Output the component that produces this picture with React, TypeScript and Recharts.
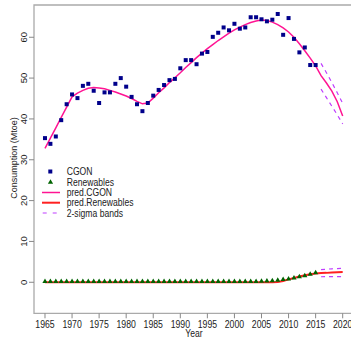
import { ComposedChart, Line, Scatter, XAxis, YAxis, ReferenceArea } from "recharts";

const years = [
	1965, 1966, 1967, 1968, 1969, 1970, 1971, 1972, 1973, 1974, 1975, 1976, 1977, 1978,
	1979, 1980, 1981, 1982, 1983, 1984, 1985, 1986, 1987, 1988, 1989, 1990, 1991, 1992,
	1993, 1994, 1995, 1996, 1997, 1998, 1999, 2000, 2001, 2002, 2003, 2004, 2005, 2006,
	2007, 2008, 2009, 2010, 2011, 2012, 2013, 2014, 2015, 2016, 2017, 2018, 2019, 2020,
];

// observed, 1965-2015
const cgon = [
	35.3, 33.9, 35.7, 39.7, 43.6, 46.0, 45.1, 48.1, 48.6, 46.9, 43.9, 46.5, 46.5, 48.6,
	50.0, 47.9, 45.4, 43.6, 41.9, 43.9, 45.7, 47.1, 48.3, 49.5, 49.8, 52.4, 54.4, 54.4,
	53.4, 56.0, 56.4, 60.1, 61.1, 62.4, 61.7, 63.3, 62.1, 62.4, 64.9, 64.9, 64.4, 63.9,
	64.3, 65.7, 60.6, 64.7, 59.6, 56.3, 57.5, 53.2, 53.2,
];
const renewables = [
	0.25, 0.25, 0.25, 0.25, 0.25, 0.25, 0.25, 0.25, 0.25, 0.25, 0.25, 0.25, 0.25, 0.25,
	0.25, 0.25, 0.25, 0.25, 0.25, 0.25, 0.25, 0.25, 0.25, 0.25, 0.25, 0.25, 0.25, 0.25,
	0.25, 0.25, 0.25, 0.25, 0.25, 0.25, 0.25, 0.25, 0.25, 0.25, 0.25, 0.25, 0.3, 0.35,
	0.45, 0.55, 0.75, 0.85, 1.1, 1.4, 1.65, 2.0, 2.4,
];

// fitted + forecast, 1965-2020
const predCgon = [
	32.8, 35.3, 37.8, 40.4, 42.9, 45.4, 46.3, 47.0, 47.5, 47.7, 47.6, 47.4, 47.0, 46.6,
	46.1, 45.6, 45.0, 44.3, 43.7, 43.9, 45.1, 46.4, 47.6, 48.9, 50.1, 51.3, 52.6, 53.8,
	55.0, 56.1, 57.2, 58.2, 59.2, 60.1, 61.0, 61.8, 62.5, 63.1, 63.6, 64.0, 64.2, 64.1,
	63.7, 63.1, 62.3, 61.3, 60.0, 58.4, 56.7, 54.9, 53.0, 50.6, 48.8, 46.8, 44.2, 40.7,
];
const predRenew = [
	0, 0, 0, 0, 0, 0, 0, 0, 0, 0, 0, 0, 0, 0,
	0, 0, 0, 0, 0, 0, 0, 0, 0, 0, 0, 0, 0, 0,
	0, 0, 0, 0, 0, 0, 0, 0, 0, 0, 0, 0, 0, 0,
	0, 0.05, 0.3, 0.7, 1.05, 1.4, 1.7, 1.95, 2.15, 2.25, 2.3, 2.4, 2.45, 2.5,
];

const bandYears = [2016, 2017, 2018, 2019, 2020];
const cgonUpper = [53.6, 51.3, 48.9, 46.4, 43.8];
const cgonLower = [47.3, 45.2, 43.1, 41.0, 38.8];
const renUpper = [3.1, 3.2, 3.3, 3.35, 3.4];
const renLower = [1.35, 1.4, 1.4, 1.4, 1.4];

const xTicks = [1965, 1970, 1975, 1980, 1985, 1990, 1995, 2000, 2005, 2010, 2015, 2020];
const yTicks = [0, 10, 20, 30, 40, 50, 60];

const X_MIN = 1962.97;
const X_MAX = 2022.2;
const Y_MIN = -7.6;
const Y_MAX = 67.9;

const FONT = "'Liberation Sans', Arial, sans-serif";
const NAVY = "#00008B";
const GREEN = "#006400";
const PINK = "#FF1493";
const RED = "#FF2020";
const VIOLET = "#BF3EFF";

const toPoints = (xs: number[], ys: number[]) => ys.map((v, i) => ({ year: xs[i], value: v }));

const cgonPts = toPoints(years, cgon);
const renPts = toPoints(years, renewables);
const predCgonPts = toPoints(years, predCgon);
const predRenPts = toPoints(years, predRenew);
const cgonUpPts = toPoints(bandYears, cgonUpper);
const cgonLoPts = toPoints(bandYears, cgonLower);
const renUpPts = toPoints(bandYears, renUpper);
const renLoPts = toPoints(bandYears, renLower);

function Square({ cx, cy }: { cx?: number; cy?: number }) {
	if (cx == null || cy == null) return null;
	return <rect x={cx - 2} y={cy - 2} width={4} height={4} fill={NAVY} />;
}

function Triangle({ cx, cy }: { cx?: number; cy?: number }) {
	if (cx == null || cy == null) return null;
	return <polygon points={`${cx},${cy - 2.8} ${cx - 2.6},${cy + 1.7} ${cx + 2.6},${cy + 1.7}`} fill={GREEN} />;
}

function XTick({ x, y, payload }: any) {
	return (
		<text transform={`translate(${x},${y + 8}) scale(0.87,1)`} textAnchor="middle" fontSize={10} fontFamily={FONT} fill="#222">
			{payload.value}
		</text>
	);
}

function YTick({ x, y, payload }: any) {
	return (
		<text transform={`translate(${x - 0.5},${y}) rotate(-90)`} textAnchor="middle" fontSize={9.5} fontFamily={FONT} fill="#222">
			{payload.value}
		</text>
	);
}

const legendRows = [
	{ label: "CGON", y: 171.5 },
	{ label: "Renewables", y: 182 },
	{ label: "pred.CGON", y: 192.5 },
	{ label: "pred.Renewables", y: 202.7 },
	{ label: "2-sigma bands", y: 213 },
];

function Overlay() {
	return (
		<svg width={351} height={338} style={{ position: "absolute", left: 0, top: 0, pointerEvents: "none" }}>
			<rect x={48.3} y={169.5} width={4} height={4} fill={NAVY} />
			<Triangle cx={50.5} cy={182} />
			<line x1={42} x2={60} y1={192.5} y2={192.5} stroke={PINK} strokeWidth={1.5} />
			<line x1={42} x2={60} y1={202.7} y2={202.7} stroke={RED} strokeWidth={2} />
			<line x1={42.7} x2={58.7} y1={213} y2={213} stroke={VIOLET} strokeWidth={1.2} strokeDasharray="4 6" />
			{legendRows.map((r) => (
				<text key={r.label} transform={`translate(66.7,${r.y + 3.5}) scale(0.86,1)`} fontSize={10} fontFamily={FONT} fill="#222">
					{r.label}
				</text>
			))}
			<text transform="translate(194,337) scale(0.86,1)" textAnchor="middle" fontSize={10} fontFamily={FONT} fill="#222">
				Year
			</text>
			<text transform="translate(17,158) rotate(-90)" textAnchor="middle" fontSize={9} fontFamily={FONT} fill="#222">
				Consumption (Mtoe)
			</text>
		</svg>
	);
}

export default function App() {
	return (
		<div style={{ position: "absolute", left: 0, top: 0, width: 351, height: 338, overflow: "hidden", background: "#fff" }}>
			<ComposedChart width={360} height={338} margin={{ top: 5, right: 5.4, bottom: 0, left: 0 }}>
				<XAxis
					type="number"
					dataKey="year"
					domain={[X_MIN, X_MAX]}
					ticks={xTicks}
					interval={0}
					allowDataOverflow
					axisLine={false}
					tickLine={{ stroke: "#888" }}
					tickSize={5}
					height={24.7}
					tick={<XTick />}
				/>
				<YAxis
					type="number"
					domain={[Y_MIN, Y_MAX]}
					ticks={yTicks}
					interval={0}
					allowDataOverflow
					axisLine={false}
					tickLine={{ stroke: "#888" }}
					tickSize={5}
					width={34}
					tick={<YTick />}
				/>
				<ReferenceArea x1={X_MIN} x2={X_MAX} y1={Y_MIN} y2={Y_MAX} fill="none" stroke="#aaa" strokeWidth={1.3} ifOverflow="visible" />
				<Line data={predRenPts} dataKey="value" stroke={RED} strokeWidth={2} dot={false} isAnimationActive={false} type="linear" />
				<Line data={predCgonPts} dataKey="value" stroke={PINK} strokeWidth={1.5} dot={false} isAnimationActive={false} type="linear" />
				<Line data={cgonUpPts} dataKey="value" stroke={VIOLET} strokeWidth={1.2} strokeDasharray="4 4" dot={false} isAnimationActive={false} />
				<Line data={cgonLoPts} dataKey="value" stroke={VIOLET} strokeWidth={1.2} strokeDasharray="4 4" dot={false} isAnimationActive={false} />
				<Line data={renUpPts} dataKey="value" stroke={VIOLET} strokeWidth={1.2} strokeDasharray="4 4" dot={false} isAnimationActive={false} />
				<Line data={renLoPts} dataKey="value" stroke={VIOLET} strokeWidth={1.2} strokeDasharray="4 4" dot={false} isAnimationActive={false} />
				<Scatter data={cgonPts} dataKey="value" shape={<Square />} isAnimationActive={false} />
				<Scatter data={renPts} dataKey="value" shape={<Triangle />} isAnimationActive={false} />
			</ComposedChart>
			<Overlay />
		</div>
	);
}
